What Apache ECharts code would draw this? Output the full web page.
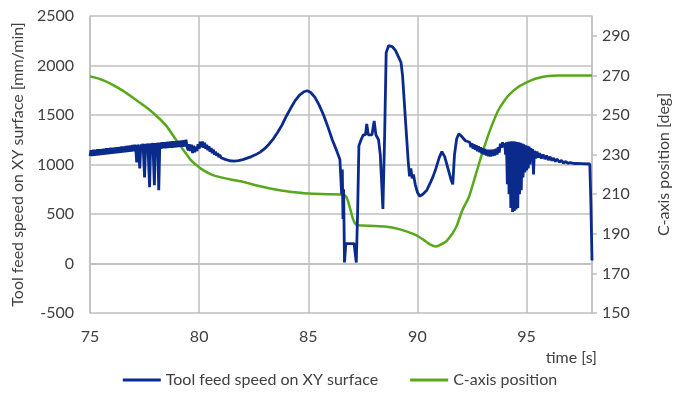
<!DOCTYPE html>
<html><head><meta charset="utf-8">
<script src="https://cdn.jsdelivr.net/npm/echarts@6/dist/echarts.min.js"></script>
<style>html,body{margin:0;padding:0;background:#fff}#c{width:680px;height:399px}</style>
</head><body><div id="c"></div>
<script>
// Tool feed speed on XY surface [mm/min] vs time [s]
const feedTime = [
75.00,75.05,75.10,75.15,75.20,75.25,75.30,75.35,75.40,75.45,75.50,75.55,75.60,75.65,75.70,75.75,75.80,75.85,75.90,75.95,
76.00,76.05,76.10,76.15,76.20,76.25,76.30,76.35,76.40,76.45,76.50,76.55,76.60,76.65,76.70,76.75,76.80,76.85,76.90,76.95,
77.00,77.05,77.10,77.14,77.18,77.23,77.28,77.33,77.38,77.43,77.50,77.55,77.60,77.65,77.73,77.78,77.83,77.88,77.95,78.00,
78.05,78.10,78.15,78.20,78.25,78.30,78.35,78.40,78.45,78.50,78.55,78.60,78.65,78.70,78.75,78.80,78.85,78.90,78.95,79.00,
79.05,79.10,79.15,79.20,79.25,79.30,79.35,79.40,79.45,79.50,79.55,79.60,79.65,79.70,79.75,79.80,79.85,79.90,79.95,80.00,
80.05,80.10,80.15,80.20,80.25,80.30,80.35,80.40,80.45,80.50,80.55,80.60,80.65,80.70,80.75,80.80,80.85,80.90,80.95,81.00,
81.2,81.4,81.6,81.8,82.0,82.2,82.4,82.6,82.8,83.0,83.2,83.4,83.6,83.8,84.0,
84.2,84.4,84.6,84.8,84.95,85.1,85.3,85.5,85.7,85.9,86.1,86.3,86.45,86.5,86.53,86.56,86.59,86.62,86.66,86.72,
87.1,87.2,87.26,87.32,87.42,87.52,87.62,87.68,87.75,87.92,88.02,88.1,88.22,88.3,88.42,88.5,88.57,88.68,88.85,
89.0,89.15,89.25,89.32,89.45,89.58,89.64,89.7,89.76,89.82,89.9,90.0,90.1,90.25,90.43,90.6,90.72,90.85,91.0,
91.12,91.25,91.4,91.55,91.62,91.7,91.8,91.9,92.0,92.2,
92.40,92.45,92.50,92.55,92.60,92.65,92.70,92.75,92.80,92.85,92.90,92.95,93.00,93.05,93.10,93.15,93.20,93.25,93.30,93.35,
93.40,93.45,93.50,93.55,93.60,93.65,93.70,93.75,93.80,93.85,93.90,93.95,
94.0,94.04,94.08,94.12,94.16,94.2,94.24,94.28,94.32,94.36,94.4,94.44,94.48,94.52,
94.56,94.6,94.64,94.68,94.72,94.76,94.8,94.84,94.88,94.92,94.96,95.0,95.04,95.08,95.12,95.16,95.2,95.24,95.28,
95.32,95.36,95.42,95.48,95.54,95.6,95.68,95.76,95.84,95.92,96.0,96.08,96.16,96.24,96.32,96.4,96.5,96.6,96.7,
96.8,96.9,97.0,97.2,97.5,97.9,97.95,98.0];
const feedSpeed = [
1085,1145,1087,1148,1089,1149,1092,1153,1093,1154,1097,1157,1099,1160,1101,1163,1104,1165,1107,1168,
1109,1170,1111,1173,1114,1175,1117,1178,1119,1181,1122,1183,1124,1186,1127,1189,1129,1193,1132,1196,
1135,1199,1150,1020,1200,1155,960,1205,1158,1208,870,1210,1160,1212,770,1214,1162,1216,790,1218,
1163,1220,740,1222,1160,1224,1163,1226,1165,1228,1166,1230,1168,1232,1170,1234,1172,1236,1174,1238,
1176,1240,1178,1242,1180,1246,1182,1250,1175,1145,1205,1135,1200,1115,1190,1125,1180,1135,1205,1160,
1230,1175,1232,1170,1220,1160,1200,1145,1185,1130,1165,1115,1150,1100,1130,1090,1115,1075,1098,1068,
1052,1038,1035,1040,1050,1065,1080,1100,1125,1160,1205,1260,1325,1400,1490,
1570,1645,1700,1735,1745,1730,1680,1600,1500,1380,1250,1140,1050,1030,700,950,450,750,10,200,
200,10,500,1190,1250,1300,1300,1410,1300,1300,1440,1300,1250,1100,550,1300,2130,2200,2190,
2150,2080,2030,1900,1460,1030,880,960,860,900,800,720,680,700,740,820,880,960,1070,
1130,1080,960,840,800,1100,1260,1310,1290,1240,
1225,1175,1215,1160,1205,1150,1195,1135,1185,1125,1175,1110,1165,1100,1158,1090,1150,1082,1148,1080,
1148,1085,1152,1090,1160,1100,1175,1120,1210,1170,1225,1175,
1215,1100,1225,800,1230,700,1232,560,1235,520,1235,530,1232,545,
1228,560,1225,700,1220,740,1212,870,1205,920,1195,940,1190,960,1180,1000,1165,1040,1155,
900,1140,1060,1130,1070,1115,1060,1100,1055,1090,1045,1078,1040,1065,1030,1055,1025,1042,1015,
1030,1012,1020,1010,1008,1005,600,30];

// C-axis position [deg] vs time [s]
const cTime = [75.0,75.5,76.0,76.5,77.0,77.5,78.0,78.5,79.0,79.3,79.6,79.9,80.2,80.6,81.0,81.5,82.0,82.5,83.0,83.5,
84.0,84.5,85.0,86.0,86.6,86.75,86.9,87.05,87.2,87.5,88.0,88.5,89.0,89.5,90.0,90.3,90.6,90.85,91.0,91.3,91.6,91.8,
92.06,92.36,92.65,92.95,93.3,93.69,94.0,94.28,94.6,95.03,95.4,95.9,96.5,98.0];
const cPos = [269.5,268,265.5,262.3,258.5,254.5,250,244.5,236.5,232,227.5,224.5,222,219.8,218.5,217.3,216.3,214.8,213.5,212.4,
211.5,210.8,210.3,210,209.7,208.5,203.5,197.5,194.6,194.2,194,193.7,192.8,191.2,189,186.8,184.5,183.6,184.2,186,190,194,
201.9,208.6,219,230,241.5,252,257.5,261,264,266.6,268.3,269.6,270,270];

const seriesNames = ['Tool feed speed on XY surface', 'C-axis position'];
const xTitle = 'time [s]';
const yTitleLeft = 'Tool feed speed on XY surface [mm/min]';
const yTitleRight = 'C-axis position [deg]';

const zip = (a, b) => a.map((t, i) => [t, b[i]]);
const FONT = 'Lato';
const TXT = '#404040';
const GRID = '#bfbfbf';

const chart = echarts.init(document.getElementById('c'), null, {renderer: 'canvas'});
chart.setOption({
  animation: false,
  backgroundColor: '#ffffff',
  textStyle: {fontFamily: FONT},
  grid: {left: 90, right: 73, top: 16, bottom: 86, containLabel: false},
  legend: {
    bottom: 6, left: 'center',
    icon: 'rect', itemWidth: 38, itemHeight: 3, itemGap: 32,
    textStyle: {fontFamily: FONT, fontSize: 16, color: TXT},
    data: seriesNames
  },
  graphic: [{
    type: 'text', right: 83, top: 350,
    style: {text: xTitle, font: '16px Lato', fill: TXT}
  }],
  xAxis: {
    type: 'value', min: 75, max: 98, interval: 5,
    axisLine: {lineStyle: {color: GRID, width: 1.5}},
    axisTick: {show: false},
    axisLabel: {fontFamily: FONT, fontSize: 16, color: TXT, margin: 16, showMaxLabel: false},
    splitLine: {show: true, lineStyle: {color: GRID, width: 1.5}}
  },
  yAxis: [{
    type: 'value', min: -500, max: 2500, interval: 500,
    name: yTitleLeft, nameLocation: 'middle', nameGap: 60, nameRotate: 90,
    nameTextStyle: {fontFamily: FONT, fontSize: 16, color: TXT},
    axisLine: {show: true, lineStyle: {color: GRID, width: 1.5}},
    axisTick: {show: false},
    axisLabel: {fontFamily: FONT, fontSize: 16, color: TXT, margin: 16, formatter: v => String(v)},
    splitLine: {show: true, lineStyle: {color: GRID, width: 1.5}}
  }, {
    type: 'value', position: 'right', min: 150, max: 300, interval: 20,
    name: yTitleRight, nameLocation: 'middle', nameGap: 64, nameRotate: 90,
    nameTextStyle: {fontFamily: FONT, fontSize: 16, color: TXT},
    axisLine: {show: true, lineStyle: {color: GRID, width: 1.5}},
    axisTick: {show: true, length: 5, lineStyle: {color: GRID, width: 1.5}},
    axisLabel: {fontFamily: FONT, fontSize: 16, color: TXT, margin: 10, showMaxLabel: false},
    splitLine: {show: false}
  }],
  series: [{
    name: seriesNames[0], type: 'line', yAxisIndex: 0, showSymbol: false,
    data: zip(feedTime, feedSpeed),
    lineStyle: {color: '#0a2a8c', width: 2.8}, itemStyle: {color: '#0a2a8c'}, z: 3
  }, {
    name: seriesNames[1], type: 'line', yAxisIndex: 1, showSymbol: false, smooth: 0.2,
    data: zip(cTime, cPos),
    lineStyle: {color: '#58a81c', width: 2.5}, itemStyle: {color: '#58a81c'}, z: 2
  }]
});
</script>
</body></html>
